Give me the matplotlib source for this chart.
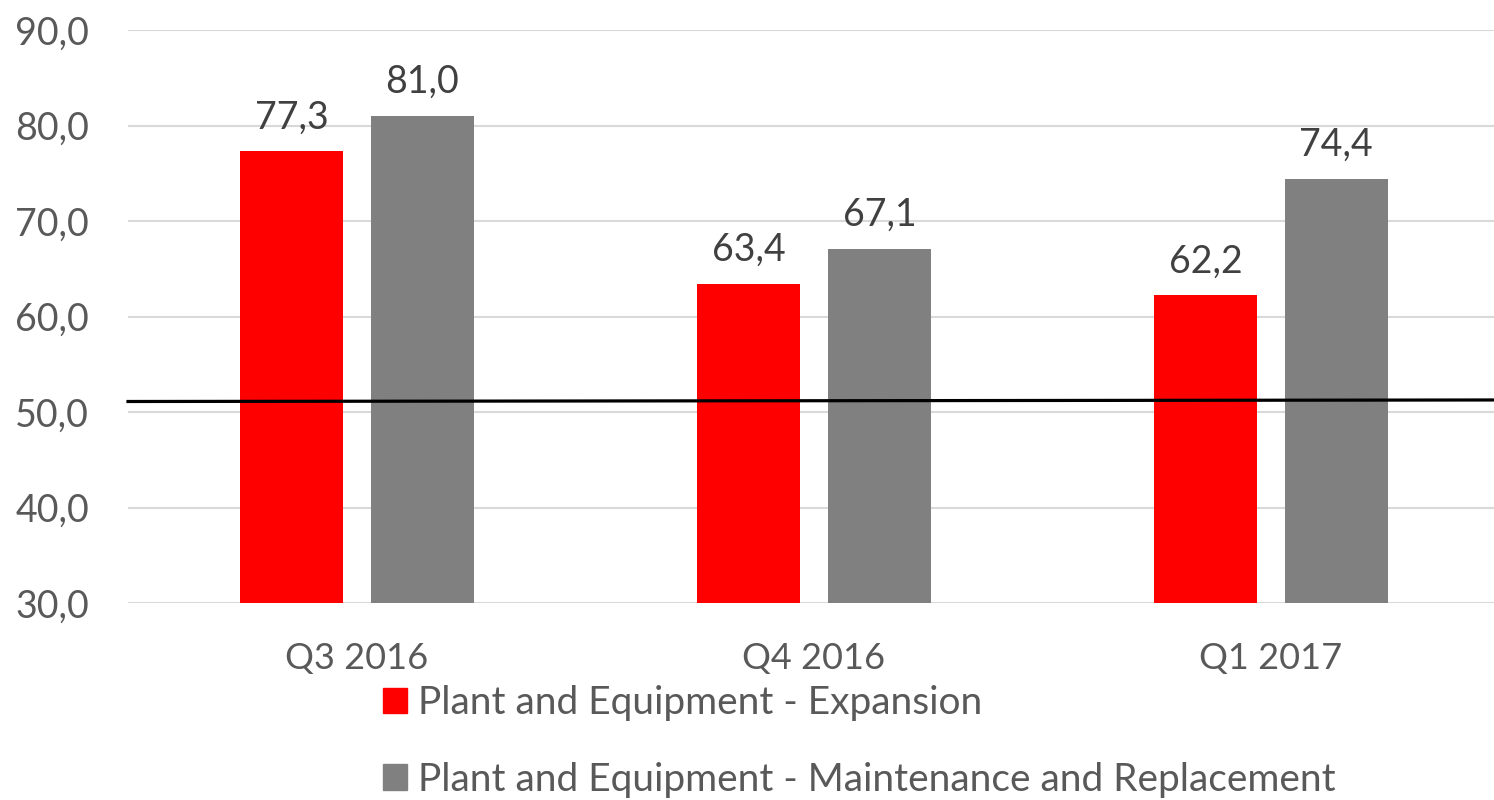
import matplotlib
matplotlib.use("Agg")
import matplotlib.pyplot as plt
import numpy as np
from matplotlib.patches import Patch

categories = ["Q3 2016", "Q4 2016", "Q1 2017"]
expansion = [77.3, 63.4, 62.2]
maintenance = [81.0, 67.1, 74.4]
series_names = ["Plant and Equipment - Expansion",
                "Plant and Equipment - Maintenance and Replacement"]
ref_line = [51.1, 51.26]
yticks = [30, 40, 50, 60, 70, 80, 90]

red = "#ff0000"
gray = "#808080"
txt = "#595959"

plt.rcParams['font.family'] = ['Lato', 'DejaVu Sans']

W, H = 1494, 800
fig = plt.figure(figsize=(W/100, H/100), dpi=100)
ax = fig.add_axes([128/W, (H-603)/H, (1494-128)/W, (603-30)/H])

x = np.arange(len(categories))
bw = 0.225
off = 0.143
ax.bar(x - off, np.array(expansion) - 30, bw, bottom=30, color=red, zorder=3)
ax.bar(x + off, np.array(maintenance) - 30, bw, bottom=30, color=gray, zorder=3)

for xs, vals in ((x - off, expansion), (x + off, maintenance)):
    for xi, v in zip(xs, vals):
        ax.annotate(f"{v:.1f}".replace(".", ","), (xi, v), xytext=(0, 16.5),
                    textcoords="offset points", ha="center", va="baseline",
                    fontsize=27, color="#404040")

xmin, xmax = -0.501, 2.488
ax.set_xlim(xmin, xmax)
ax.set_ylim(30, 90)
ax.plot([xmin, xmax], ref_line, color="black", lw=2.3, zorder=4, clip_on=False)

ax.set_yticks(yticks)
ax.set_yticklabels([f"{t:.1f}".replace(".", ",") for t in yticks])
ax.set_xticks(x)
ax.set_xticklabels(categories)
ax.tick_params(axis="both", length=0, labelcolor=txt)
ax.tick_params(axis="y", pad=28, labelsize=27)
ax.tick_params(axis="x", pad=28, labelsize=26)
ax.grid(axis="y", color="#d9d9d9", lw=1.5, zorder=0)
for s in ax.spines.values():
    s.set_visible(False)

handles = [Patch(color=red), Patch(color=gray)]
fig.legend(handles, series_names, loc="upper left",
           bbox_to_anchor=(383/W, (H-685)/H), frameon=False,
           fontsize=28, labelcolor=txt, labelspacing=1.05,
           handlelength=0.61, handleheight=0.63, handletextpad=0.29,
           borderaxespad=0, borderpad=0)

fig.savefig("out.png", dpi=100)
